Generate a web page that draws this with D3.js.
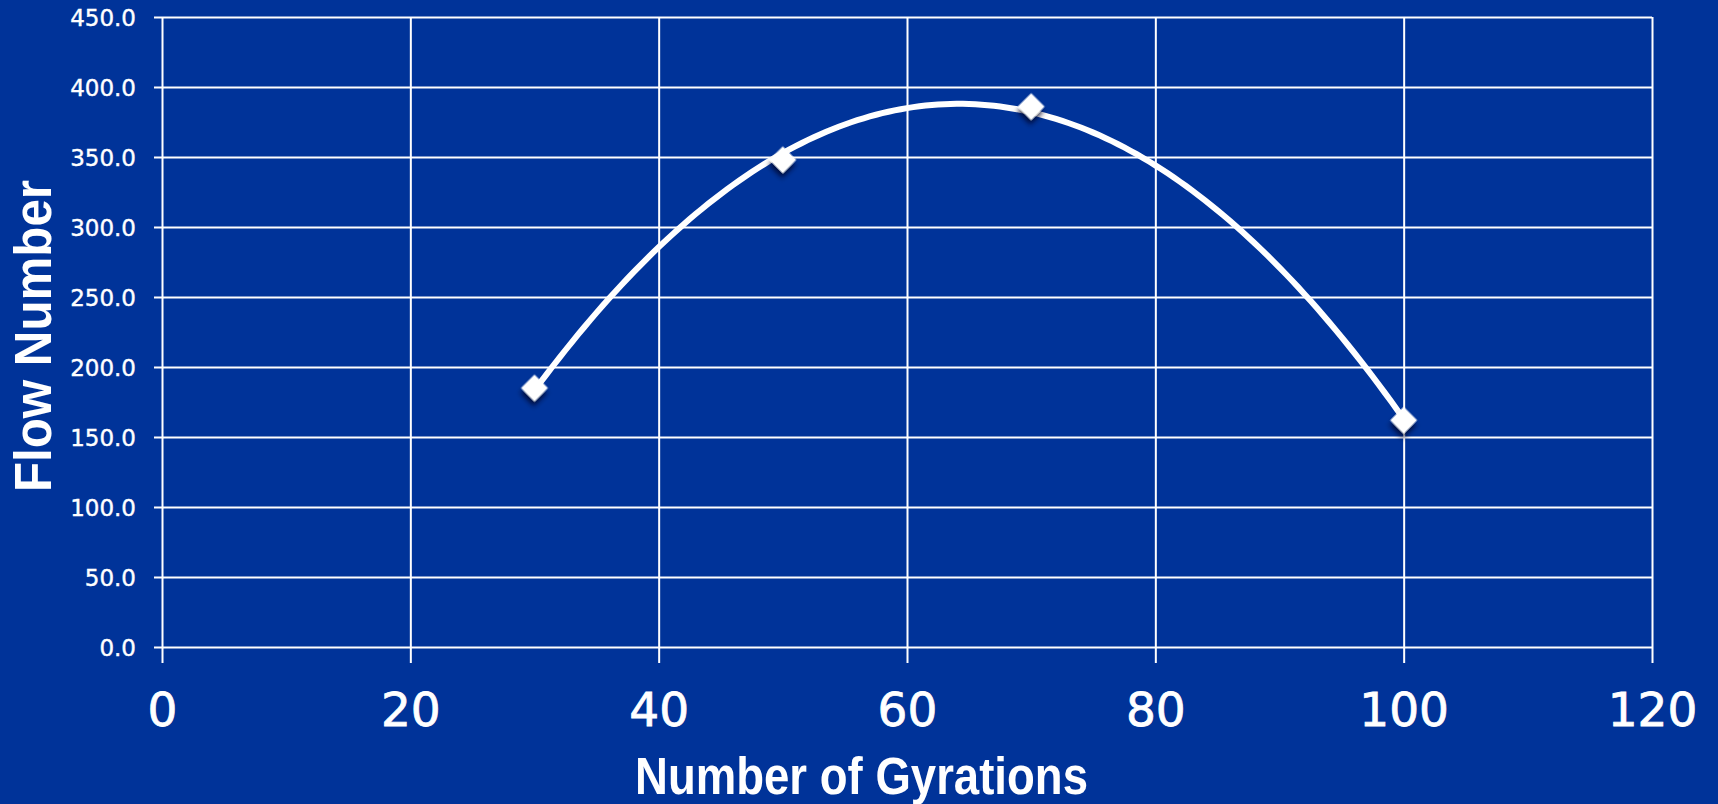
<!DOCTYPE html>
<html>
<head>
<meta charset="utf-8">
<script src="https://cdn.jsdelivr.net/npm/d3@7"></script>
<style>
  html, body { margin: 0; padding: 0; background: #003399; }
  svg { display: block; }
</style>
</head>
<body>
<svg id="chart" width="1718" height="804"></svg>
<script>
// ---- Data ----
const gyrations = [30, 50, 70, 100];
const flowNumbers = [185, 348, 386, 162];
const xTicks = [0, 20, 40, 60, 80, 100, 120];
const yTicks = [0, 50, 100, 150, 200, 250, 300, 350, 400, 450];
const xTitle = "Number of Gyrations";
const yTitle = "Flow Number";

// ---- Layout ----
const W = 1718, H = 804;
const plot = { left: 162, right: 1652, top: 17, bottom: 647 };
const bg = "#003399";

const svg = d3.select("#chart");
svg.append("rect").attr("width", W).attr("height", H).attr("fill", bg);

const defs = svg.append("defs");
const f = defs.append("filter").attr("id", "shadow").attr("x", "-50%").attr("y", "-50%").attr("width", "200%").attr("height", "200%");
f.append("feDropShadow").attr("dx", 3).attr("dy", 4).attr("stdDeviation", 2.5)
  .attr("flood-color", "#000022").attr("flood-opacity", 0.75);

const x = d3.scaleLinear().domain([0, 120]).range([plot.left, plot.right]);
const y = d3.scaleLinear().domain([0, 450]).range([plot.bottom, plot.top]);

// Horizontal gridlines + y axis
const yAxis = d3.axisLeft(y).tickValues(yTicks).tickFormat(d3.format(".1f"))
  .tickSize(plot.right - plot.left + 8).tickPadding(18);
const gy = svg.append("g").attr("transform", `translate(${plot.right},0)`).call(yAxis);
gy.select(".domain").remove();
gy.selectAll(".tick line").attr("stroke", "#ffffff").attr("stroke-width", 2);
gy.selectAll(".tick text").attr("fill", "#ffffff")
  .attr("stroke", "#ffffff").attr("stroke-width", 0.4)
  .attr("font-family", "'DejaVu Sans', sans-serif").attr("font-size", 23)
  .attr("dy", "0.36em");

// Vertical gridlines + x axis
const xAxis = d3.axisBottom(x).tickValues(xTicks).tickFormat(d3.format("d"))
  .tickSize(plot.bottom - plot.top + 16).tickPadding(30);
const gx = svg.append("g").attr("transform", `translate(0,${plot.top})`).call(xAxis);
gx.select(".domain").remove();
gx.selectAll(".tick line").attr("stroke", "#ffffff").attr("stroke-width", 2);
gx.selectAll(".tick text").attr("fill", "#ffffff")
  .attr("stroke", "#ffffff").attr("stroke-width", 0.8)
  .attr("font-family", "'DejaVu Sans', sans-serif").attr("font-size", 47)
  .attr("dy", "0.71em");

// Quadratic least-squares trendline fitted to the data
function quadFit(xs, ys) {
  const n = xs.length;
  let S = [0,0,0,0,0], T = [0,0,0];
  for (let i = 0; i < n; i++) {
    const xv = xs[i], yv = ys[i];
    for (let k = 0; k < 5; k++) S[k] += Math.pow(xv, k);
    for (let k = 0; k < 3; k++) T[k] += yv * Math.pow(xv, k);
  }
  const A = [[S[0],S[1],S[2],T[0]],[S[1],S[2],S[3],T[1]],[S[2],S[3],S[4],T[2]]];
  for (let i = 0; i < 3; i++) {
    let p = i;
    for (let r = i+1; r < 3; r++) if (Math.abs(A[r][i]) > Math.abs(A[p][i])) p = r;
    [A[i], A[p]] = [A[p], A[i]];
    for (let r = 0; r < 3; r++) if (r !== i) {
      const m = A[r][i] / A[i][i];
      for (let c = i; c < 4; c++) A[r][c] -= m * A[i][c];
    }
  }
  return [A[0][3]/A[0][0], A[1][3]/A[1][1], A[2][3]/A[2][2]];
}
const coef = quadFit(gyrations, flowNumbers);
const xMin = d3.min(gyrations), xMax = d3.max(gyrations);
const trend = d3.range(xMin, xMax + 0.001, 0.5).map(v => [v, coef[0] + coef[1]*v + coef[2]*v*v]);

svg.append("path").datum(trend)
  .attr("fill", "none").attr("stroke", "#ffffff").attr("stroke-width", 6)
  .attr("stroke-linecap", "round")
  .attr("d", d3.line().x(d => x(d[0])).y(d => y(d[1])).curve(d3.curveLinear));

// Diamond markers
const diamond = d3.symbol().type(d3.symbolSquare).size(360);
svg.append("g").selectAll("path").data(gyrations.map((g, i) => [g, flowNumbers[i]]))
  .join("path")
  .attr("d", diamond)
  .attr("transform", d => `translate(${x(d[0])},${y(d[1])}) rotate(45)`)
  .attr("fill", "#ffffff")
  .attr("filter", "url(#shadow)");

// Axis titles
svg.append("text")
  .attr("x", (635 + 1088) / 2).attr("y", 794)
  .attr("text-anchor", "middle")
  .attr("fill", "#ffffff")
  .attr("font-family", "'Liberation Sans Narrow', 'Arial Narrow', 'Liberation Sans', sans-serif")
  .attr("font-weight", "bold").attr("font-size", 51)
  .attr("textLength", 453).attr("lengthAdjust", "spacingAndGlyphs")
  .text(xTitle);

svg.append("text")
  .attr("transform", `translate(51,336) rotate(-90)`)
  .attr("text-anchor", "middle")
  .attr("fill", "#ffffff")
  .attr("font-family", "'Liberation Sans Narrow', 'Arial Narrow', 'Liberation Sans', sans-serif")
  .attr("font-weight", "bold").attr("font-size", 51)
  .attr("textLength", 312).attr("lengthAdjust", "spacingAndGlyphs")
  .text(yTitle);
</script>
</body>
</html>
